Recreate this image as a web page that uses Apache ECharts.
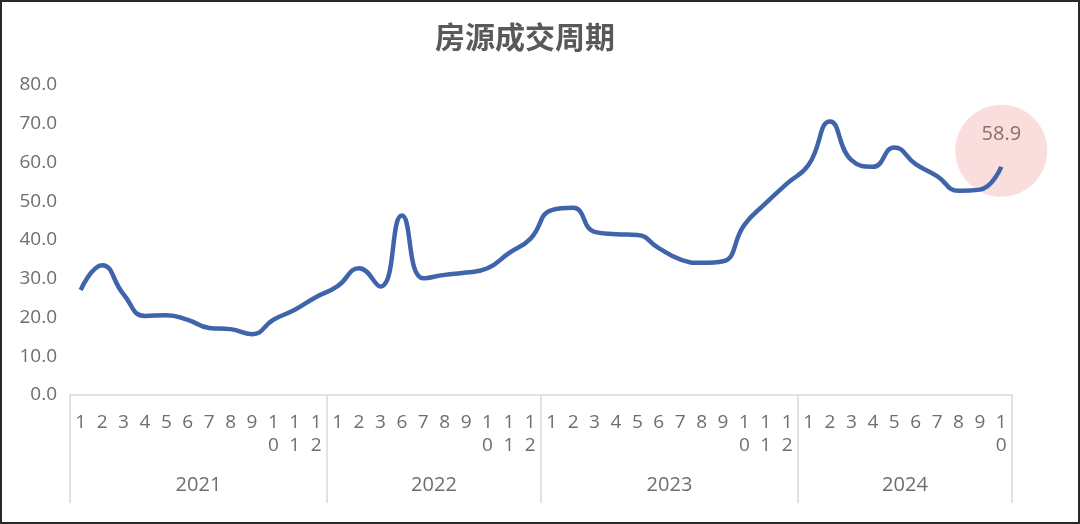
<!DOCTYPE html>
<html>
<head>
<meta charset="utf-8">
<script src="https://cdn.jsdelivr.net/npm/echarts@6/dist/echarts.min.js"></script>
<style>
  html, body { margin: 0; padding: 0; background: #fff; }
  #chart { position: absolute; left: 0; top: 0; width: 1080px; height: 524px; }
  #frame { position: absolute; left: 0; top: 0; width: 1080px; height: 524px; box-sizing: border-box; border: 2px solid #2a2a2a; pointer-events: none; }
</style>
</head>
<body>
<div id="chart"></div>
<div id="frame"></div>
<script>
// ---- data ----
const title = '房源成交周期';
const years = ['2021', '2022', '2023', '2024'];
const months2021 = [1, 2, 3, 4, 5, 6, 7, 8, 9, 10, 11, 12];
const months2022 = [1, 2, 3, 6, 7, 8, 9, 10, 11, 12];
const months2023 = [1, 2, 3, 4, 5, 6, 7, 8, 9, 10, 11, 12];
const months2024 = [1, 2, 3, 4, 5, 6, 7, 8, 9, 10];
const values2021 = [27.1, 33.5, 26.0, 20.4, 20.6, 19.4, 17.3, 17.0, 15.7, 19.4, 22.0, 25.3];
const values2022 = [28.1, 32.7, 28.0, 46.3, 30.1, 31.0, 31.6, 32.7, 36.6, 40.3];
const values2023 = [47.7, 48.3, 42.1, 41.5, 41.3, 37.9, 35.0, 34.1, 34.5, 43.9, 49.5, 54.6];
const values2024 = [59.4, 70.6, 60.6, 58.9, 63.9, 59.6, 56.5, 52.7, 53.0, 58.9];
const yTicks = [0, 10, 20, 30, 40, 50, 60, 70, 80];

// ---- build ----
const monthGroups = [months2021, months2022, months2023, months2024];
const valueGroups = [values2021, values2022, values2023, values2024];
const categories = [];
const values = [];
const starts = [];
monthGroups.forEach((ms, g) => {
  starts.push(categories.length);
  ms.forEach((m, k) => {
    categories.push(years[g] + '-' + m);
    values.push(valueGroups[g][k]);
  });
});
const total = categories.length;
const boundaries = [];
const yearMid = {};
const groupEdges = new Set(starts.concat([total]));
monthGroups.forEach((ms, g) => { yearMid[starts[g] + ms.length / 2] = years[g]; });
for (let i = 0; i <= total; i++) boundaries.push('b' + i);

const lastIdx = total - 1;
const lastVal = values[lastIdx];

const numFont = 'Open Sans';
const labelColor = '#6e6e6e';
const chart = echarts.init(document.getElementById('chart'), null, { renderer: 'canvas' });
chart.setOption({
  animation: false,
  backgroundColor: '#ffffff',
  title: {
    text: title,
    left: 520,
    textAlign: 'center',
    top: 17,
    textStyle: { fontFamily: 'Noto Sans CJK SC', fontSize: 30, fontWeight: 'bold', color: '#595959' }
  },
  grid: { left: 70, right: 68, top: 85, bottom: 129, containLabel: false },
  xAxis: [
    {
      type: 'category',
      data: categories,
      boundaryGap: true,
      position: 'bottom',
      axisLine: { show: true, lineStyle: { color: '#d9d9d9', width: 1.5 } },
      axisTick: { show: false },
      axisLabel: {
        interval: 0,
        margin: 16,
        fontFamily: numFont,
        fontSize: 19,
        lineHeight: 23,
        color: labelColor,
        formatter: v => v.split('-')[1].split('').join('\n')
      },
      splitLine: { show: false }
    },
    {
      type: 'category',
      data: boundaries,
      boundaryGap: false,
      position: 'bottom',
      axisLine: { show: false },
      axisTick: {
        show: true,
        length: 108,
        interval: (i) => groupEdges.has(i),
        lineStyle: { color: '#d9d9d9', width: 1.5 }
      },
      axisLabel: {
        interval: (i) => yearMid[i] !== undefined,
        margin: 80,
        fontFamily: numFont,
        fontSize: 20,
        color: labelColor,
        formatter: (v, i) => yearMid[i] || ''
      },
      splitLine: { show: false }
    }
  ],
  yAxis: {
    type: 'value',
    min: yTicks[0],
    max: yTicks[yTicks.length - 1],
    interval: yTicks[1] - yTicks[0],
    axisLine: { show: false },
    axisTick: { show: false },
    splitLine: { show: false },
    axisLabel: {
      margin: 13,
      fontFamily: numFont,
      fontSize: 19,
      color: labelColor,
      formatter: v => v.toFixed(1)
    }
  },
  series: [
    {
      type: 'scatter',
      xAxisIndex: 0,
      data: [[lastIdx, lastVal]],
      symbol: 'circle',
      symbolSize: 92,
      symbolOffset: [0, -16],
      z: 1,
      itemStyle: { color: 'rgba(248, 206, 206, 0.85)' },
      label: {
        show: true,
        position: 'inside',
        offset: [0, -16],
        fontFamily: numFont,
        fontSize: 20,
        color: '#6f5050',
        formatter: p => p.value[1].toFixed(1)
      },
      silent: true
    },
    {
      type: 'line',
      xAxisIndex: 0,
      data: values,
      smooth: true,
      symbol: 'none',
      z: 3,
      lineStyle: { color: '#3f64aa', width: 4.5 }
    }
  ]
});
</script>
</body>
</html>
